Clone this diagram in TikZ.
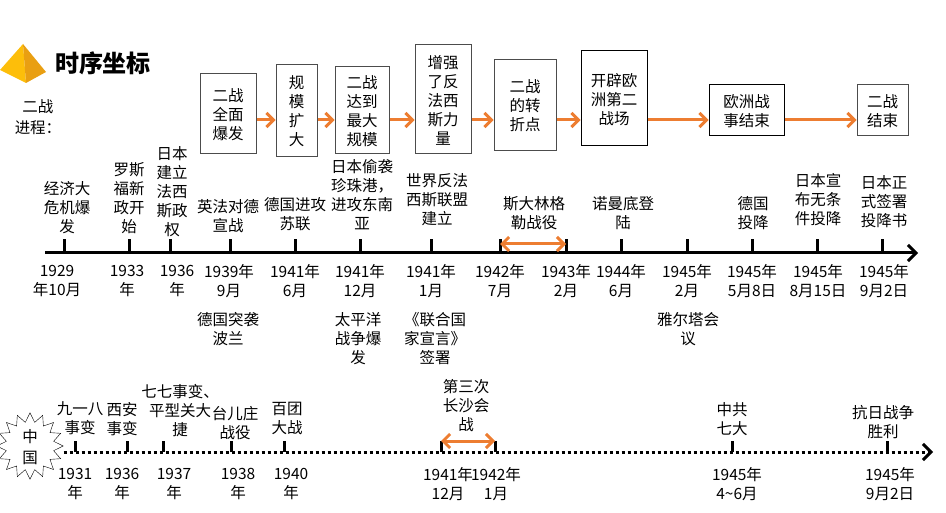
\documentclass[tikz,border=0pt]{standalone}
\usepackage{fontspec}
\setmainfont{Noto Sans CJK SC}
\usetikzlibrary{arrows.meta}
\usetikzlibrary{shapes.geometric}
\definecolor{naranja}{HTML}{ED7D31}
\definecolor{oroA}{HTML}{FDBE0A}
\definecolor{oroB}{HTML}{E99F12}

\begin{document}
\begin{tikzpicture}[x=1pt, y=-1pt,
    every node/.style={font=\fontsize{15.5}{19}\selectfont, align=center, inner sep=0pt, text depth=0pt},
    caja/.style={draw=black!70, line width=1pt, fill=white},
    flecha/.style={naranja, line width=3pt, -{Straight Barb[length=7pt,width=14pt]}},
    doble/.style={naranja, line width=3pt, {Straight Barb[length=7pt,width=14pt]}-{Straight Barb[length=7pt,width=14pt]}},
    eje/.style={line width=3pt, -{Straight Barb[length=8pt,width=16pt]}},
    marca/.style={line width=3pt}]
            \useasboundingbox (0,0) rectangle (946,513);

            % Titulo
            \fill[oroA] (23,44) -- (0,70) -- (26,83) -- cycle;
            \fill[oroB] (23,44) -- (46,72) -- (26,83) -- cycle;
            \node[font=\fontsize{24}{28}\selectfont\bfseries] (titulo) at (103,62) {时序坐标};
            \node[font=\fontsize{15.5}{21}\selectfont] (proceso) at (38,117) {二战\\进程：};

            % Cajas
            \node[caja, minimum width=56pt, minimum height=80pt] (b1) at (228,114) {二战\\全面\\爆发};
            \node[caja, minimum width=41pt, minimum height=92pt] (b2) at (296.5,111) {规\\模\\扩\\大};
            \node[caja, minimum width=54pt, minimum height=87pt] (b3) at (362,110.5) {二战\\达到\\最大\\规模};
            \node[caja, minimum width=56pt, minimum height=109pt] (b4) at (443,99.5) {增强\\了反\\法西\\斯力\\量};
            \node[caja, minimum width=62pt, minimum height=91pt] (b5) at (525,105.5) {二战\\的转\\折点};
            \node[caja, draw=black, minimum width=66pt, minimum height=95pt] (b6) at (614,98.5) {开辟欧\\洲第二\\战场};
            \node[caja, draw=black, minimum width=75pt, minimum height=51pt] (b7) at (746.5,110.5) {欧洲战\\事结束};
            \node[caja, minimum width=51pt, minimum height=51pt] (b8) at (882.5,110.5) {二战\\结束};

            % Flechas
            \coordinate (altura) at (0,120);
            \draw[flecha] (b1.east |- altura) -- (b2.west |- altura);
            \draw[flecha] (b2.east |- altura) -- (b3.west |- altura);
            \draw[flecha] (b3.east |- altura) -- (b4.west |- altura);
            \draw[flecha] (b4.east |- altura) -- (b5.west |- altura);
            \draw[flecha] (b5.east |- altura) -- (b6.west |- altura);
            \draw[flecha] (b6.east |- altura) -- (b7.west |- altura);
            \draw[flecha] (b7.east |- altura) -- (b8.west |- altura);

            % Eje mundial
            \coordinate (ejeA) at (45,253);
            \coordinate (ejeB) at (918,253);
            \draw[eje] (ejeA) -- (ejeB);
            \foreach \n/\x in {1/64,2/129,3/170,4/230,5/295,6/360,7/431,8/500,9/566,10/621.5,11/687,12/752,13/817,14/882.5}{
                \coordinate (a\n) at (\x,253);
                \coordinate (c\n) at (\x,239);
                \draw[marca] (a\n) -- (c\n);
            }
            \coordinate (sA) at (500,244);
            \coordinate (sB) at (566,244);
            \draw[doble] (sA) -- (sB);

            % Sucesos arriba
            \node (e1) at (67,207) {经济大\\危机爆\\发};
            \node (e2) at (129,197) {罗斯\\福新\\政开\\始};
            \node (e3) at (172,191) {日本\\建立\\法西\\斯政\\权};
            \node (e4) at (228,215) {英法对德\\宣战};
            \node (e5) at (295,213) {德国进攻\\苏联};
            \node (e6) at (362,194) {日本偷袭\\珍珠港，\\进攻东南\\亚};
            \node (e7) at (437,199) {世界反法\\西斯联盟\\建立};
            \node (e8) at (534,212) {斯大林格\\勒战役};
            \node (e9) at (623,212) {诺曼底登\\陆};
            \node (e10) at (753,212) {德国\\投降};
            \node (e11) at (818,199) {日本宣\\布无条\\件投降};
            \node (e12) at (884,201) {日本正\\式签署\\投降书};

            % Fechas
            \node (f1) at (57,280) {1929\\年10月};
            \node (f2) at (127,280) {1933\\年};
            \node (f3) at (177,280) {1936\\年};
            \node (f4) at (229,280) {1939年\\9月};
            \node (f5) at (295,280) {1941年\\6月};
            \node (f6) at (360,280) {1941年\\12月};
            \node (f7) at (431,280) {1941年\\1月};
            \node (f8) at (500,280) {1942年\\7月};
            \node (f9) at (566,280) {1943年\\2月};
            \node (f10) at (621,280) {1944年\\6月};
            \node (f11) at (687,280) {1945年\\2月};
            \node (f12) at (752,280) {1945年\\5月8日};
            \node (f13) at (818,280) {1945年\\8月15日};
            \node (f14) at (884,280) {1945年\\9月2日};

            % Sucesos abajo
            \node (d1) at (228,328) {德国突袭\\波兰};
            \node (d2) at (358,338) {太平洋\\战争爆\\发};
            \node (d3) at (435,338) {《联合国\\家宣言》\\签署};
            \node (d4) at (688,328) {雅尔塔会\\议};

            % Eje de China
            \node[star, star points=16, star point ratio=1.38, draw, fill=white, minimum size=66pt,
                  font=\fontsize{15.5}{21}\selectfont] (cn) at (30,446) {中\\国};
            \coordinate (ejeC) at (933,452);
            \draw[eje, dash pattern=on 3pt off 3pt] (cn.east |- ejeC) -- (ejeC);
            \foreach \n/\x in {1/75,2/127,3/163,4/231,5/284,6/441,7/495,8/732,9/887}{
                \coordinate (g\n) at (\x,452);
                \coordinate (h\n) at (\x,441);
                \draw[marca] (g\n) -- (h\n);
            }
            \draw[doble] (h6) -- (h7);

            \node (z1) at (80,418) {九一八\\事变};
            \node (z2) at (122,418) {西安\\事变};
            \node (z3) at (180,410) {七七事变、\\平型关大\\捷};
            \node (z4) at (235,422) {台儿庄\\战役};
            \node (z5) at (287,418) {百团\\大战};
            \node (z6) at (466,405) {第三次\\长沙会\\战};
            \node (z7) at (732,418) {中共\\七大};
            \node (z8) at (883,421) {抗日战争\\胜利};

            \node (y1) at (75,483) {1931\\年};
            \node (y2) at (122,483) {1936\\年};
            \node (y3) at (174,483) {1937\\年};
            \node (y4) at (238,483) {1938\\年};
            \node (y5) at (291,483) {1940\\年};
            \node (y6) at (448,483) {1941年\\12月};
            \node (y7) at (496,483) {1942年\\1月};
            \node (y8) at (737,483) {1945年\\4\textasciitilde6月};
            \node (y9) at (890,483) {1945年\\9月2日};
          \end{tikzpicture}
\end{document}
